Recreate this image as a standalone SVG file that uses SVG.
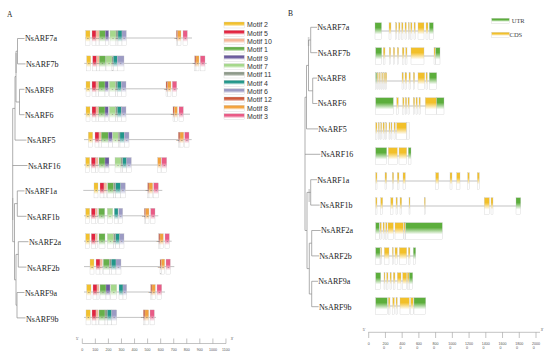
<svg xmlns="http://www.w3.org/2000/svg" width="550" height="360" viewBox="0 0 550 360">
<style>
.lbl{font-family:"Liberation Serif","Times New Roman",serif;font-size:8px;fill:#222}
.pl{font-family:"Liberation Serif","Times New Roman",serif;font-size:7.5px;fill:#222}
.n{font-family:"Liberation Sans",Arial,sans-serif;font-size:2.5px;fill:#555;text-anchor:middle}
.leg{font-family:"Liberation Sans",Arial,sans-serif;font-size:7px;fill:#333}
.legs{font-family:"Liberation Serif","Times New Roman",serif;font-size:6.5px;fill:#444}
.ax{font-family:"Liberation Sans",Arial,sans-serif;font-size:3.6px;fill:#555;text-anchor:middle}
.ax2{font-family:"Liberation Sans",Arial,sans-serif;font-size:3.6px;fill:#555}
.tree{fill:none;stroke:#8c8c8c;stroke-width:0.7}
.gl{fill:none;stroke:#9a9a9a;stroke-width:0.6}
.b{stroke:#c4c4c4;stroke-width:0.3}
.m2{fill:url(#g2)}.m5{fill:url(#g5)}.m10{fill:url(#g10)}.m1{fill:url(#g1)}.m9{fill:url(#g9)}.m7{fill:url(#g7)}
.m11{fill:url(#g11)}.m4{fill:url(#g4)}.m6{fill:url(#g6)}.m12{fill:url(#g12)}.m8{fill:url(#g8)}.m3{fill:url(#g3)}
.u{fill:url(#gU)}.c{fill:url(#gC)}.w{fill:#fafafa}
</style>
<defs>
<linearGradient id="g2" x1="0" y1="0" x2="0" y2="1"><stop offset="0" stop-color="#f2c12e"/><stop offset="0.35" stop-color="#f2c12e"/><stop offset="0.75" stop-color="#fff"/></linearGradient>
<linearGradient id="g5" x1="0" y1="0" x2="0" y2="1"><stop offset="0" stop-color="#e2233f"/><stop offset="0.35" stop-color="#e2233f"/><stop offset="0.75" stop-color="#fff"/></linearGradient>
<linearGradient id="g10" x1="0" y1="0" x2="0" y2="1"><stop offset="0" stop-color="#f7b79a"/><stop offset="0.35" stop-color="#f7b79a"/><stop offset="0.75" stop-color="#fff"/></linearGradient>
<linearGradient id="g1" x1="0" y1="0" x2="0" y2="1"><stop offset="0" stop-color="#67b04a"/><stop offset="0.35" stop-color="#67b04a"/><stop offset="0.75" stop-color="#fff"/></linearGradient>
<linearGradient id="g9" x1="0" y1="0" x2="0" y2="1"><stop offset="0" stop-color="#6b5b9e"/><stop offset="0.35" stop-color="#6b5b9e"/><stop offset="0.75" stop-color="#fff"/></linearGradient>
<linearGradient id="g7" x1="0" y1="0" x2="0" y2="1"><stop offset="0" stop-color="#a6d88c"/><stop offset="0.35" stop-color="#a6d88c"/><stop offset="0.75" stop-color="#fff"/></linearGradient>
<linearGradient id="g11" x1="0" y1="0" x2="0" y2="1"><stop offset="0" stop-color="#8e9a8a"/><stop offset="0.35" stop-color="#8e9a8a"/><stop offset="0.75" stop-color="#fff"/></linearGradient>
<linearGradient id="g4" x1="0" y1="0" x2="0" y2="1"><stop offset="0" stop-color="#21968a"/><stop offset="0.35" stop-color="#21968a"/><stop offset="0.75" stop-color="#fff"/></linearGradient>
<linearGradient id="g6" x1="0" y1="0" x2="0" y2="1"><stop offset="0" stop-color="#9c9bc4"/><stop offset="0.35" stop-color="#9c9bc4"/><stop offset="0.75" stop-color="#fff"/></linearGradient>
<linearGradient id="g12" x1="0" y1="0" x2="0" y2="1"><stop offset="0" stop-color="#cf5a3c"/><stop offset="0.35" stop-color="#cf5a3c"/><stop offset="0.75" stop-color="#fff"/></linearGradient>
<linearGradient id="g8" x1="0" y1="0" x2="0" y2="1"><stop offset="0" stop-color="#f3a23c"/><stop offset="0.35" stop-color="#f3a23c"/><stop offset="0.75" stop-color="#fff"/></linearGradient>
<linearGradient id="g3" x1="0" y1="0" x2="0" y2="1"><stop offset="0" stop-color="#e95b86"/><stop offset="0.35" stop-color="#e95b86"/><stop offset="0.75" stop-color="#fff"/></linearGradient>
<linearGradient id="gU" x1="0" y1="0" x2="0" y2="1"><stop offset="0" stop-color="#5cae3c"/><stop offset="0.3" stop-color="#5cae3c"/><stop offset="0.7" stop-color="#fff"/></linearGradient>
<linearGradient id="gC" x1="0" y1="0" x2="0" y2="1"><stop offset="0" stop-color="#f2c02a"/><stop offset="0.3" stop-color="#f2c02a"/><stop offset="0.7" stop-color="#fff"/></linearGradient>
</defs>
<rect width="550" height="360" fill="#fff"/>
<text class="pl" x="7" y="16.5">A</text>
<text class="pl" x="288" y="16">B</text>

<g id="connectors">
<rect x="15.3" y="53" width="1.6" height="20" fill="#d4d4d4"/>
<rect x="12" y="198" width="1.4" height="22" fill="#d4d4d4"/>
<rect x="307.8" y="37" width="1.6" height="9" fill="#d4d4d4"/>
<rect x="308.4" y="189" width="1.6" height="13" fill="#d4d4d4"/>
<path class="tree" d="M17.5,38.5H24.5M17.5,63.9H25.5M19.5,89.3H24.5M19.5,114.7H24.5M15,140.1H26.5M12.7,165.5H27.5M17.3,190.9H24.5M17.3,216.3H26.5M18.3,241.7H28.5M18.3,267.1H26.5M17,292.5H24.5M17,317.9H25.5
M17.5,38.5V63.9M16,51.2H17.5M19.5,89.3V114.7M16,102H19.5M16,51.2V102M15,76.6H16M15,76.6V140.1M12.7,108.4H15M12.7,108.4V241.7
M17.3,190.9V216.3M14.5,203.6H17.3M18.3,241.7V267.1M16,254.4H18.3M17,292.5V317.9M16,305.2H17M16,254.4V305.2M14.5,279.8H16M14.5,203.6V279.8M12.7,241.7H14.5"/>
<path class="tree" d="M310.7,27.3H317M310.7,52.7H317.4M312.7,78.1H317M312.7,103.5H317.4M306.5,128.9H318M305,154.3H320.4M310.7,179.7H317M310.7,205.1H319.7M311.7,230.5H320.7M311.7,255.9H319M311.7,281.3H318M311.7,306.7H318.7
M310.7,27.3V52.7M308.5,40H310.7M312.7,78.1V103.5M308.5,90.8H312.7M308.5,40V90.8M306.5,65.4H308.5M306.5,65.4V128.9M305,97.2H306.5M305,97.2V230.5
M310.7,179.7V205.1M307,192.4H310.7M311.7,230.5V255.9M309.3,243.2H311.7M311.7,281.3V306.7M309.3,294H311.7M309.3,243.2V294M307,268.6H309.3M307,192.4V268.6M305,230.5H307"/>
</g>

<g id="legend-motifs">
<rect class="b m2" x="224" y="22" width="20.3" height="6"/><text class="leg" x="247" y="27.4">Motif 2</text>
<rect class="b m5" x="224" y="30.3" width="20.3" height="6"/><text class="leg" x="247" y="35.7">Motif 5</text>
<rect class="b m10" x="224" y="38.7" width="20.3" height="6"/><text class="leg" x="247" y="44.1">Motif 10</text>
<rect class="b m1" x="224" y="47" width="20.3" height="6"/><text class="leg" x="247" y="52.4">Motif 1</text>
<rect class="b m9" x="224" y="55.3" width="20.3" height="6"/><text class="leg" x="247" y="60.7">Motif 9</text>
<rect class="b m7" x="224" y="63.7" width="20.3" height="6"/><text class="leg" x="247" y="69.1">Motif 7</text>
<rect class="b m11" x="224" y="72" width="20.3" height="6"/><text class="leg" x="247" y="77.4">Motif 11</text>
<rect class="b m4" x="224" y="80.3" width="20.3" height="6"/><text class="leg" x="247" y="85.7">Motif 4</text>
<rect class="b m6" x="224" y="88.7" width="20.3" height="6"/><text class="leg" x="247" y="94.1">Motif 6</text>
<rect class="b m12" x="224" y="97" width="20.3" height="6"/><text class="leg" x="247" y="102.4">Motif 12</text>
<rect class="b m8" x="224" y="105.3" width="20.3" height="6"/><text class="leg" x="247" y="110.7">Motif 8</text>
<rect class="b m3" x="224" y="113.7" width="20.3" height="6"/><text class="leg" x="247" y="119.1">Motif 3</text>
</g>

<g id="legend-structure">
<rect class="b u" x="491.7" y="18.3" width="17.6" height="5"/><text class="legs" x="511.7" y="23.3">UTR</text>
<rect class="b c" x="491.7" y="32.3" width="17.6" height="5"/><text class="legs" x="509.6" y="37.2">CDS</text>
</g>

<g id="a-NsARF7a">
<text class="lbl" x="25" y="41.3">NsARF7a</text>
<path class="gl" d="M85,38H192"/>
<rect class="b m2" x="85.7" y="30.5" width="4.3" height="15"/><rect class="b m5" x="92" y="30.5" width="4" height="15"/><rect class="b m10" x="96" y="30.5" width="3" height="15"/><rect class="b m1" x="99.3" y="30.5" width="6" height="15"/><rect class="b m9" x="105.3" y="30.5" width="3.4" height="15"/><rect class="b m7" x="110" y="30.5" width="6" height="15"/><rect class="b m11" x="116" y="30.5" width="2" height="15"/><rect class="b m4" x="118" y="30.5" width="4" height="15"/><rect class="b m6" x="122" y="30.5" width="4.3" height="15"/><rect class="b m12" x="176.3" y="30.5" width="1.4" height="15"/><rect class="b m8" x="177.7" y="30.5" width="3.3" height="15"/><rect class="b m3" x="183" y="30.5" width="4.3" height="15"/>
<text class="n" x="87.8" y="39">2</text><text class="n" x="94" y="39">5</text><text class="n" x="97.5" y="39">10</text><text class="n" x="102.3" y="39">1</text><text class="n" x="107" y="39">9</text><text class="n" x="113" y="39">7</text><text class="n" x="116.9" y="39">11</text><text class="n" x="120" y="39">4</text><text class="n" x="124.1" y="39">6</text><text class="n" x="175.6" y="39">12</text><text class="n" x="179.4" y="39">8</text><text class="n" x="185.1" y="39">3</text>
</g>

<g id="a-NsARF7b">
<text class="lbl" x="26" y="66.9">NsARF7b</text>
<path class="gl" d="M84.3,63.4H206.7"/>
<rect class="b m2" x="86.7" y="55.9" width="4" height="15"/><rect class="b m5" x="92.7" y="55.9" width="4" height="15"/><rect class="b m10" x="96.7" y="55.9" width="2.6" height="15"/><rect class="b m1" x="99.3" y="55.9" width="6.4" height="15"/><rect class="b m7" x="106" y="55.9" width="6" height="15"/><rect class="b m11" x="112" y="55.9" width="1.3" height="15"/><rect class="b m4" x="113.3" y="55.9" width="4" height="15"/><rect class="b m6" x="117.3" y="55.9" width="6.7" height="15"/><rect class="b m12" x="194.7" y="55.9" width="1.3" height="15"/><rect class="b m8" x="196" y="55.9" width="3" height="15"/><rect class="b m3" x="200.3" y="55.9" width="4.7" height="15"/>
<text class="n" x="88.7" y="64.4">2</text><text class="n" x="94.7" y="64.4">5</text><text class="n" x="98" y="64.4">10</text><text class="n" x="102.5" y="64.4">1</text><text class="n" x="109" y="64.4">7</text><text class="n" x="112.6" y="64.4">11</text><text class="n" x="115.3" y="64.4">4</text><text class="n" x="120.6" y="64.4">6</text><text class="n" x="193.8" y="64.4">12</text><text class="n" x="197.5" y="64.4">8</text><text class="n" x="202.6" y="64.4">3</text>
</g>

<g id="a-NsARF8">
<text class="lbl" x="25" y="92.8">NsARF8</text>
<path class="gl" d="M84.3,88.8H178"/>
<rect class="b m2" x="86" y="81.3" width="4" height="15"/><rect class="b m5" x="92" y="81.3" width="4" height="15"/><rect class="b m10" x="96" y="81.3" width="2.7" height="15"/><rect class="b m1" x="98.7" y="81.3" width="6.3" height="15"/><rect class="b m9" x="105" y="81.3" width="3.3" height="15"/><rect class="b m7" x="109.3" y="81.3" width="6.4" height="15"/><rect class="b m11" x="115.7" y="81.3" width="1.6" height="15"/><rect class="b m4" x="117.3" y="81.3" width="4" height="15"/><rect class="b m6" x="121.3" y="81.3" width="4.7" height="15"/><rect class="b m12" x="166" y="81.3" width="1.7" height="15"/><rect class="b m8" x="167.7" y="81.3" width="3.3" height="15"/><rect class="b m3" x="172.3" y="81.3" width="4.4" height="15"/>
<text class="n" x="88" y="89.8">2</text><text class="n" x="94" y="89.8">5</text><text class="n" x="97.4" y="89.8">10</text><text class="n" x="101.8" y="89.8">1</text><text class="n" x="106.6" y="89.8">9</text><text class="n" x="112.5" y="89.8">7</text><text class="n" x="116.5" y="89.8">11</text><text class="n" x="119.3" y="89.8">4</text><text class="n" x="123.6" y="89.8">6</text><text class="n" x="165.3" y="89.8">12</text><text class="n" x="169.3" y="89.8">8</text><text class="n" x="174.5" y="89.8">3</text>
</g>

<g id="a-NsARF6">
<text class="lbl" x="25" y="118.2">NsARF6</text>
<path class="gl" d="M84.3,114.2H190"/>
<rect class="b m2" x="86" y="106.7" width="4" height="15"/><rect class="b m5" x="92" y="106.7" width="4" height="15"/><rect class="b m10" x="96" y="106.7" width="2.7" height="15"/><rect class="b m1" x="98.7" y="106.7" width="6.3" height="15"/><rect class="b m9" x="105" y="106.7" width="3.3" height="15"/><rect class="b m7" x="109.3" y="106.7" width="6.4" height="15"/><rect class="b m11" x="115.7" y="106.7" width="1.6" height="15"/><rect class="b m4" x="117.3" y="106.7" width="4" height="15"/><rect class="b m6" x="121.3" y="106.7" width="4.7" height="15"/><rect class="b m12" x="173" y="106.7" width="1.3" height="15"/><rect class="b m8" x="174.3" y="106.7" width="3" height="15"/><rect class="b m3" x="179" y="106.7" width="4.3" height="15"/>
<text class="n" x="88" y="115.2">2</text><text class="n" x="94" y="115.2">5</text><text class="n" x="97.4" y="115.2">10</text><text class="n" x="101.8" y="115.2">1</text><text class="n" x="106.6" y="115.2">9</text><text class="n" x="112.5" y="115.2">7</text><text class="n" x="116.5" y="115.2">11</text><text class="n" x="119.3" y="115.2">4</text><text class="n" x="123.6" y="115.2">6</text><text class="n" x="172.2" y="115.2">12</text><text class="n" x="175.8" y="115.2">8</text><text class="n" x="181.1" y="115.2">3</text>
</g>

<g id="a-NsARF5">
<text class="lbl" x="27" y="143.3">NsARF5</text>
<path class="gl" d="M84,139.6H191.7"/>
<rect class="b m2" x="88.3" y="132.1" width="4.4" height="15"/><rect class="b m5" x="95" y="132.1" width="4" height="15"/><rect class="b m10" x="99" y="132.1" width="2.3" height="15"/><rect class="b m1" x="101.3" y="132.1" width="7" height="15"/><rect class="b m9" x="108.3" y="132.1" width="4" height="15"/><rect class="b m7" x="112.7" y="132.1" width="5.6" height="15"/><rect class="b m11" x="118.3" y="132.1" width="1.7" height="15"/><rect class="b m4" x="120" y="132.1" width="4.3" height="15"/><rect class="b m6" x="124.3" y="132.1" width="4.7" height="15"/><rect class="b m12" x="178.3" y="132.1" width="1.7" height="15"/><rect class="b m8" x="180" y="132.1" width="3.7" height="15"/><rect class="b m3" x="184.7" y="132.1" width="4.3" height="15"/>
<text class="n" x="90.5" y="140.6">2</text><text class="n" x="97" y="140.6">5</text><text class="n" x="100.2" y="140.6">10</text><text class="n" x="104.8" y="140.6">1</text><text class="n" x="110.3" y="140.6">9</text><text class="n" x="115.5" y="140.6">7</text><text class="n" x="119.1" y="140.6">11</text><text class="n" x="122.1" y="140.6">4</text><text class="n" x="126.6" y="140.6">6</text><text class="n" x="177.6" y="140.6">12</text><text class="n" x="181.8" y="140.6">8</text><text class="n" x="186.8" y="140.6">3</text>
</g>

<g id="a-NsARF16">
<text class="lbl" x="28" y="168.7">NsARF16</text>
<path class="gl" d="M84,165H167"/>
<rect class="b m2" x="85.7" y="157.5" width="4" height="15"/><rect class="b m5" x="91.3" y="157.5" width="4.4" height="15"/><rect class="b m10" x="95.7" y="157.5" width="2.3" height="15"/><rect class="b m1" x="99" y="157.5" width="6" height="15"/><rect class="b m9" x="105" y="157.5" width="4" height="15"/><rect class="b m7" x="115" y="157.5" width="6" height="15"/><rect class="b m11" x="121" y="157.5" width="1.7" height="15"/><rect class="b m4" x="122.7" y="157.5" width="4" height="15"/><rect class="b m6" x="126.7" y="157.5" width="4.6" height="15"/><rect class="b m8" x="157.7" y="157.5" width="3.3" height="15"/><rect class="b m3" x="161.7" y="157.5" width="5" height="15"/>
<text class="n" x="87.7" y="166">2</text><text class="n" x="93.5" y="166">5</text><text class="n" x="96.9" y="166">10</text><text class="n" x="102" y="166">1</text><text class="n" x="107" y="166">9</text><text class="n" x="118" y="166">7</text><text class="n" x="121.8" y="166">11</text><text class="n" x="124.7" y="166">4</text><text class="n" x="129" y="166">6</text><text class="n" x="159.3" y="166">8</text><text class="n" x="164.2" y="166">3</text>
</g>

<g id="a-NsARF1a">
<text class="lbl" x="25" y="194.3">NsARF1a</text>
<path class="gl" d="M83.3,190.4H162.3"/>
<rect class="b m2" x="94" y="182.9" width="4" height="15"/><rect class="b m5" x="100" y="182.9" width="4" height="15"/><rect class="b m10" x="104" y="182.9" width="2.7" height="15"/><rect class="b m1" x="107.7" y="182.9" width="6" height="15"/><rect class="b m11" x="113.7" y="182.9" width="2" height="15"/><rect class="b m4" x="115.7" y="182.9" width="5" height="15"/><rect class="b m6" x="120.7" y="182.9" width="4.6" height="15"/><rect class="b m12" x="147.7" y="182.9" width="1.3" height="15"/><rect class="b m8" x="149" y="182.9" width="3.7" height="15"/><rect class="b m3" x="153.7" y="182.9" width="4.6" height="15"/>
<text class="n" x="96" y="191.4">2</text><text class="n" x="102" y="191.4">5</text><text class="n" x="105.3" y="191.4">10</text><text class="n" x="110.7" y="191.4">1</text><text class="n" x="114.6" y="191.4">11</text><text class="n" x="118.2" y="191.4">4</text><text class="n" x="123" y="191.4">6</text><text class="n" x="146.9" y="191.4">12</text><text class="n" x="150.9" y="191.4">8</text><text class="n" x="156" y="191.4">3</text>
</g>

<g id="a-NsARF1b">
<text class="lbl" x="27" y="219.7">NsARF1b</text>
<path class="gl" d="M84,215.8H158.3"/>
<rect class="b m2" x="85.7" y="208.3" width="4" height="15"/><rect class="b m5" x="91.3" y="208.3" width="4" height="15"/><rect class="b m10" x="95.3" y="208.3" width="2" height="15"/><rect class="b m1" x="98.7" y="208.3" width="6" height="15"/><rect class="b m7" x="107.3" y="208.3" width="5.4" height="15"/><rect class="b m4" x="114.3" y="208.3" width="3.7" height="15"/><rect class="b m6" x="118.7" y="208.3" width="4" height="15"/><rect class="b m12" x="144.3" y="208.3" width="1.4" height="15"/><rect class="b m8" x="145.7" y="208.3" width="3.3" height="15"/><rect class="b m3" x="150.7" y="208.3" width="4.3" height="15"/>
<text class="n" x="87.7" y="216.8">2</text><text class="n" x="93.3" y="216.8">5</text><text class="n" x="96.4" y="216.8">10</text><text class="n" x="101.7" y="216.8">1</text><text class="n" x="110" y="216.8">7</text><text class="n" x="116.2" y="216.8">4</text><text class="n" x="120.7" y="216.8">6</text><text class="n" x="143.5" y="216.8">12</text><text class="n" x="147.4" y="216.8">8</text><text class="n" x="152.9" y="216.8">3</text>
</g>

<g id="a-NsARF2a">
<text class="lbl" x="29" y="245.1">NsARF2a</text>
<path class="gl" d="M84,241.2H171.7"/>
<rect class="b m2" x="85.7" y="233.7" width="4" height="15"/><rect class="b m5" x="91.3" y="233.7" width="4" height="15"/><rect class="b m10" x="95.3" y="233.7" width="2" height="15"/><rect class="b m1" x="99" y="233.7" width="6" height="15"/><rect class="b m7" x="107.3" y="233.7" width="6.4" height="15"/><rect class="b m11" x="113.7" y="233.7" width="2" height="15"/><rect class="b m4" x="115.7" y="233.7" width="4" height="15"/><rect class="b m6" x="119.7" y="233.7" width="4.3" height="15"/><rect class="b m12" x="158.7" y="233.7" width="1.3" height="15"/><rect class="b m8" x="160" y="233.7" width="3.3" height="15"/><rect class="b m3" x="165" y="233.7" width="4.3" height="15"/>
<text class="n" x="87.7" y="242.2">2</text><text class="n" x="93.3" y="242.2">5</text><text class="n" x="96.4" y="242.2">10</text><text class="n" x="102" y="242.2">1</text><text class="n" x="110.5" y="242.2">7</text><text class="n" x="114.6" y="242.2">11</text><text class="n" x="117.7" y="242.2">4</text><text class="n" x="121.8" y="242.2">6</text><text class="n" x="157.9" y="242.2">12</text><text class="n" x="161.6" y="242.2">8</text><text class="n" x="167.1" y="242.2">3</text>
</g>

<g id="a-NsARF2b">
<text class="lbl" x="27" y="270.6">NsARF2b</text>
<path class="gl" d="M84,266.6H174.3"/>
<rect class="b m2" x="90" y="259.1" width="4" height="15"/><rect class="b m5" x="96" y="259.1" width="4" height="15"/><rect class="b m10" x="100" y="259.1" width="2.3" height="15"/><rect class="b m1" x="103.3" y="259.1" width="6" height="15"/><rect class="b m11" x="109.3" y="259.1" width="2" height="15"/><rect class="b m4" x="111.3" y="259.1" width="4.7" height="15"/><rect class="b m6" x="116" y="259.1" width="5" height="15"/><rect class="b m12" x="160" y="259.1" width="1.3" height="15"/><rect class="b m8" x="161.3" y="259.1" width="3.4" height="15"/><rect class="b m3" x="166" y="259.1" width="4.3" height="15"/>
<text class="n" x="92" y="267.6">2</text><text class="n" x="98" y="267.6">5</text><text class="n" x="101.2" y="267.6">10</text><text class="n" x="106.3" y="267.6">1</text><text class="n" x="110.3" y="267.6">11</text><text class="n" x="113.6" y="267.6">4</text><text class="n" x="118.5" y="267.6">6</text><text class="n" x="159.2" y="267.6">12</text><text class="n" x="163" y="267.6">8</text><text class="n" x="168.1" y="267.6">3</text>
</g>

<g id="a-NsARF9a">
<text class="lbl" x="25" y="296">NsARF9a</text>
<path class="gl" d="M84,292H165"/>
<rect class="b m2" x="86.7" y="284.5" width="4.3" height="15"/><rect class="b m5" x="93" y="284.5" width="4" height="15"/><rect class="b m10" x="97" y="284.5" width="2" height="15"/><rect class="b m1" x="100" y="284.5" width="6" height="15"/><rect class="b m9" x="106" y="284.5" width="4" height="15"/><rect class="b m7" x="110.7" y="284.5" width="6" height="15"/><rect class="b m4" x="119" y="284.5" width="4" height="15"/><rect class="b m6" x="123" y="284.5" width="3.7" height="15"/><rect class="b m12" x="150.7" y="284.5" width="1.3" height="15"/><rect class="b m8" x="152" y="284.5" width="3.3" height="15"/><rect class="b m3" x="157" y="284.5" width="4.7" height="15"/>
<text class="n" x="88.8" y="293">2</text><text class="n" x="95" y="293">5</text><text class="n" x="98" y="293">10</text><text class="n" x="103" y="293">1</text><text class="n" x="108" y="293">9</text><text class="n" x="113.7" y="293">7</text><text class="n" x="121" y="293">4</text><text class="n" x="124.8" y="293">6</text><text class="n" x="149.9" y="293">12</text><text class="n" x="153.6" y="293">8</text><text class="n" x="159.3" y="293">3</text>
</g>

<g id="a-NsARF9b">
<text class="lbl" x="26" y="321.6">NsARF9b</text>
<path class="gl" d="M84,317.4H156"/>
<rect class="b m2" x="86" y="309.9" width="4.3" height="15"/><rect class="b m5" x="92" y="309.9" width="4" height="15"/><rect class="b m10" x="96" y="309.9" width="2.3" height="15"/><rect class="b m1" x="99" y="309.9" width="6" height="15"/><rect class="b m11" x="105" y="309.9" width="2.3" height="15"/><rect class="b m4" x="107.3" y="309.9" width="4.4" height="15"/><rect class="b m6" x="111.7" y="309.9" width="5" height="15"/><rect class="b m12" x="143.3" y="309.9" width="1.7" height="15"/><rect class="b m8" x="145" y="309.9" width="3.7" height="15"/><rect class="b m3" x="150" y="309.9" width="4.3" height="15"/>
<text class="n" x="88.1" y="318.4">2</text><text class="n" x="94" y="318.4">5</text><text class="n" x="97.2" y="318.4">10</text><text class="n" x="102" y="318.4">1</text><text class="n" x="106.1" y="318.4">11</text><text class="n" x="109.5" y="318.4">4</text><text class="n" x="114.2" y="318.4">6</text><text class="n" x="142.5" y="318.4">12</text><text class="n" x="146.8" y="318.4">8</text><text class="n" x="152.1" y="318.4">3</text>
</g>

<g id="scale-a">
<path class="gl" d="M82.3,343.5H226M82.3,338.5V343.5M95.36,338.5V343.5M108.42,338.5V343.5M121.48,338.5V343.5M134.54,338.5V343.5M147.6,338.5V343.5M160.66,338.5V343.5M173.72,338.5V343.5M186.78,338.5V343.5M199.84,338.5V343.5M212.9,338.5V343.5M225.96,338.5V343.5"/>
<text class="ax" x="77.3" y="339.5">5'</text><text class="ax" x="232" y="339.5">3'</text>
<text class="ax" x="82.3" y="350.5">0</text><text class="ax" x="95.36" y="350.5">100</text><text class="ax" x="108.42" y="350.5">200</text><text class="ax" x="121.48" y="350.5">300</text><text class="ax" x="134.54" y="350.5">400</text><text class="ax" x="147.6" y="350.5">500</text><text class="ax" x="160.66" y="350.5">600</text><text class="ax" x="173.72" y="350.5">700</text><text class="ax" x="186.78" y="350.5">800</text><text class="ax" x="199.84" y="350.5">900</text><text class="ax" x="212.9" y="350.5">1000</text><text class="ax" x="225.96" y="350.5">1100</text>
</g>

<g id="b-NsARF7a">
<text class="lbl" x="317.3" y="30.1">NsARF7a</text>
<path class="gl" d="M375,31H433.3"/>
<rect class="b u" x="375" y="22.7" width="6.5" height="16.6"/><rect class="b c" x="389" y="22.7" width="2" height="16.6"/><rect class="b c" x="395.6" y="22.7" width="1.2" height="16.6"/><rect class="b c" x="398.7" y="22.7" width="1.3" height="16.6"/><rect class="b c" x="401.7" y="22.7" width="1.3" height="16.6"/><rect class="b c" x="405" y="22.7" width="1.3" height="16.6"/><rect class="b c" x="408.3" y="22.7" width="1" height="16.6"/><rect class="b c" x="410.7" y="22.7" width="1.3" height="16.6"/><rect class="b c" x="414" y="22.7" width="1.3" height="16.6"/><rect class="b c" x="418" y="22.7" width="6" height="16.6"/><rect class="b c" x="426" y="22.7" width="2" height="16.6"/><rect class="b u" x="429.3" y="22.7" width="4" height="16.6"/>
</g>
<g id="b-NsARF7b">
<text class="lbl" x="317.7" y="55.5">NsARF7b</text>
<path class="gl" d="M375.7,56H440"/>
<rect class="b u" x="375.7" y="47.7" width="6" height="16.6"/><rect class="b c" x="383.3" y="47.7" width="1.7" height="16.6"/><rect class="b c" x="389.3" y="47.7" width="1.4" height="16.6"/><rect class="b c" x="393.3" y="47.7" width="1.4" height="16.6"/><rect class="b c" x="397.3" y="47.7" width="1.4" height="16.6"/><rect class="b c" x="402.3" y="47.7" width="1.7" height="16.6"/><rect class="b c" x="405.7" y="47.7" width="1.3" height="16.6"/><rect class="b c" x="411" y="47.7" width="13" height="16.6"/><rect class="b c" x="434" y="47.7" width="1.3" height="16.6"/><rect class="b u" x="435.7" y="47.7" width="4.3" height="16.6"/>
</g>
<g id="b-NsARF8">
<text class="lbl" x="317.3" y="80.9">NsARF8</text>
<path class="gl" d="M375.7,81H436.7"/>
<rect class="b u" x="375.7" y="72.7" width="1" height="16.6"/><rect class="b c" x="377.3" y="72.7" width="1" height="16.6"/><rect class="b c" x="379.3" y="72.7" width="1" height="16.6"/><rect class="b c" x="381.7" y="72.7" width="1" height="16.6"/><rect class="b c" x="383.7" y="72.7" width="1" height="16.6"/><rect class="b c" x="385.3" y="72.7" width="1.4" height="16.6"/><rect class="b c" x="402" y="72.7" width="1.3" height="16.6"/><rect class="b c" x="405" y="72.7" width="1.7" height="16.6"/><rect class="b c" x="409" y="72.7" width="1.3" height="16.6"/><rect class="b c" x="413.3" y="72.7" width="1.4" height="16.6"/><rect class="b c" x="418" y="72.7" width="6.7" height="16.6"/><rect class="b c" x="426" y="72.7" width="1.3" height="16.6"/><rect class="b u" x="429.3" y="72.7" width="7.4" height="16.6"/>
</g>
<g id="b-NsARF6">
<text class="lbl" x="317.7" y="106.3">NsARF6</text>
<path class="gl" d="M375.7,106H444"/>
<rect class="b u" x="375.7" y="97.7" width="17.6" height="16.6"/><rect class="b c" x="396.7" y="97.7" width="1.6" height="16.6"/><rect class="b c" x="402.7" y="97.7" width="1.3" height="16.6"/><rect class="b c" x="405.3" y="97.7" width="1.4" height="16.6"/><rect class="b c" x="408" y="97.7" width="1.3" height="16.6"/><rect class="b c" x="413.3" y="97.7" width="1.4" height="16.6"/><rect class="b c" x="416" y="97.7" width="1.3" height="16.6"/><rect class="b c" x="419" y="97.7" width="1.3" height="16.6"/><rect class="b c" x="425.3" y="97.7" width="11.4" height="16.6"/><rect class="b u" x="436.7" y="97.7" width="7.3" height="16.6"/>
</g>
<g id="b-NsARF5">
<text class="lbl" x="318.3" y="131.7">NsARF5</text>
<path class="gl" d="M375.7,131H409.3"/>
<rect class="b c" x="375.7" y="122.7" width="1.3" height="16.6"/><rect class="b c" x="378.3" y="122.7" width="1" height="16.6"/><rect class="b c" x="380.7" y="122.7" width="1" height="16.6"/><rect class="b c" x="383" y="122.7" width="1.3" height="16.6"/><rect class="b c" x="385.7" y="122.7" width="1" height="16.6"/><rect class="b c" x="389" y="122.7" width="1" height="16.6"/><rect class="b c" x="391" y="122.7" width="1" height="16.6"/><rect class="b c" x="394" y="122.7" width="1.3" height="16.6"/><rect class="b c" x="396.7" y="122.7" width="10" height="16.6"/><rect class="b w" x="406.7" y="122.7" width="2.6" height="16.6"/>
</g>
<g id="b-NsARF16">
<text class="lbl" x="320.7" y="157.1">NsARF16</text>
<path class="gl" d="M375.7,156H411"/>
<rect class="b u" x="375.7" y="147.7" width="11" height="16.6"/><rect class="b c" x="388.3" y="147.7" width="9" height="16.6"/><rect class="b c" x="399" y="147.7" width="7.7" height="16.6"/><rect class="b u" x="408.3" y="147.7" width="2.7" height="16.6"/>
</g>
<g id="b-NsARF1a">
<text class="lbl" x="317.3" y="182.5">NsARF1a</text>
<path class="gl" d="M375.7,181H479.3"/>
<rect class="b c" x="375.7" y="172.7" width="1.3" height="16.6"/><rect class="b c" x="385" y="172.7" width="1.7" height="16.6"/><rect class="b c" x="392.3" y="172.7" width="1.4" height="16.6"/><rect class="b c" x="397.3" y="172.7" width="1.7" height="16.6"/><rect class="b c" x="403" y="172.7" width="2.3" height="16.6"/><rect class="b c" x="435.7" y="172.7" width="3" height="16.6"/><rect class="b c" x="450" y="172.7" width="2" height="16.6"/><rect class="b c" x="456.7" y="172.7" width="3.3" height="16.6"/><rect class="b c" x="467.7" y="172.7" width="1.6" height="16.6"/><rect class="b c" x="477.3" y="172.7" width="2" height="16.6"/>
</g>
<g id="b-NsARF1b">
<text class="lbl" x="320" y="207.9">NsARF1b</text>
<path class="gl" d="M375.7,206H520.7"/>
<rect class="b c" x="375.7" y="197.7" width="1.3" height="16.6"/><rect class="b c" x="380.7" y="197.7" width="2" height="16.6"/><rect class="b c" x="390.7" y="197.7" width="2.3" height="16.6"/><rect class="b c" x="396" y="197.7" width="1.3" height="16.6"/><rect class="b c" x="400" y="197.7" width="1.7" height="16.6"/><rect class="b c" x="409" y="197.7" width="1" height="16.6"/><rect class="b c" x="424.3" y="197.7" width="1" height="16.6"/><rect class="b c" x="484.3" y="197.7" width="5" height="16.6"/><rect class="b c" x="491" y="197.7" width="2" height="16.6"/><rect class="b u" x="516" y="197.7" width="4.7" height="16.6"/>
</g>
<g id="b-NsARF2a">
<text class="lbl" x="321" y="233.3">NsARF2a</text>
<path class="gl" d="M375.7,231H442.3"/>
<rect class="b u" x="375.7" y="222.7" width="3.6" height="16.6"/><rect class="b c" x="380" y="222.7" width="1.3" height="16.6"/><rect class="b c" x="383" y="222.7" width="1.3" height="16.6"/><rect class="b c" x="385.7" y="222.7" width="1.3" height="16.6"/><rect class="b c" x="388" y="222.7" width="5.3" height="16.6"/><rect class="b c" x="395" y="222.7" width="8.3" height="16.6"/><rect class="b c" x="404" y="222.7" width="1.3" height="16.6"/><rect class="b u" x="405.7" y="222.7" width="36.6" height="16.6"/>
</g>
<g id="b-NsARF2b">
<text class="lbl" x="319.3" y="258.7">NsARF2b</text>
<path class="gl" d="M375.7,256H415.7"/>
<rect class="b u" x="375.7" y="247.7" width="4.3" height="16.6"/><rect class="b c" x="380.7" y="247.7" width="1" height="16.6"/><rect class="b c" x="384.3" y="247.7" width="4.7" height="16.6"/><rect class="b c" x="392.3" y="247.7" width="1" height="16.6"/><rect class="b c" x="395" y="247.7" width="2.3" height="16.6"/><rect class="b c" x="399.3" y="247.7" width="7.4" height="16.6"/><rect class="b c" x="408.3" y="247.7" width="1.7" height="16.6"/><rect class="b u" x="413.3" y="247.7" width="2.4" height="16.6"/>
</g>
<g id="b-NsARF9a">
<text class="lbl" x="318.3" y="284.1">NsARF9a</text>
<path class="gl" d="M375.7,281H412.7"/>
<rect class="b u" x="375.7" y="272.7" width="5" height="16.6"/><rect class="b c" x="384" y="272.7" width="1" height="16.6"/><rect class="b c" x="386.7" y="272.7" width="1.3" height="16.6"/><rect class="b c" x="390" y="272.7" width="1.3" height="16.6"/><rect class="b c" x="393.3" y="272.7" width="1.7" height="16.6"/><rect class="b c" x="397.3" y="272.7" width="3.7" height="16.6"/><rect class="b c" x="402.7" y="272.7" width="4" height="16.6"/><rect class="b c" x="407.3" y="272.7" width="1.7" height="16.6"/><rect class="b u" x="409.3" y="272.7" width="3.4" height="16.6"/>
</g>
<g id="b-NsARF9b">
<text class="lbl" x="319" y="309.5">NsARF9b</text>
<path class="gl" d="M375.7,306H425.7"/>
<rect class="b u" x="375.7" y="297.7" width="11.6" height="16.6"/><rect class="b c" x="388.3" y="297.7" width="1.7" height="16.6"/><rect class="b c" x="392.7" y="297.7" width="1.6" height="16.6"/><rect class="b c" x="396" y="297.7" width="1.3" height="16.6"/><rect class="b c" x="400" y="297.7" width="9.3" height="16.6"/><rect class="b c" x="410.7" y="297.7" width="2.6" height="16.6"/><rect class="b u" x="414" y="297.7" width="11.7" height="16.6"/>
</g>

<g id="scale-b">
<path class="gl" d="M368.3,332.3H540M368.7,332.3V338M385.43,332.3V338M402.16,332.3V338M418.89,332.3V338M435.62,332.3V338M452.35,332.3V338M469.08,332.3V338M485.81,332.3V338M502.54,332.3V338M519.27,332.3V338M536,332.3V338"/>
<text class="ax" x="364" y="331">5'</text><text class="ax" x="542" y="331">3'</text>
<text class="ax" x="368.7" y="345.3">0</text>
<text class="ax" x="385.43" y="345.3">200<tspan x="383.9" y="349.4">0</tspan></text>
<text class="ax" x="402.16" y="345.3">400<tspan x="400.6" y="349.4">0</tspan></text>
<text class="ax" x="418.89" y="345.3">600<tspan x="417.3" y="349.4">0</tspan></text>
<text class="ax" x="435.62" y="345.3">800<tspan x="434.1" y="349.4">0</tspan></text>
<text class="ax" x="452.35" y="345.3">1000<tspan x="450.2" y="349.4">0</tspan></text>
<text class="ax" x="469.08" y="345.3">1200<tspan x="466.9" y="349.4">0</tspan></text>
<text class="ax" x="485.81" y="345.3">1400<tspan x="483.6" y="349.4">0</tspan></text>
<text class="ax" x="502.54" y="345.3">1600<tspan x="500.4" y="349.4">0</tspan></text>
<text class="ax" x="519.27" y="345.3">1800<tspan x="517.1" y="349.4">0</tspan></text>
<text class="ax" x="536" y="345.3">2000<tspan x="533.8" y="349.4">0</tspan></text>
</g>
</svg>
